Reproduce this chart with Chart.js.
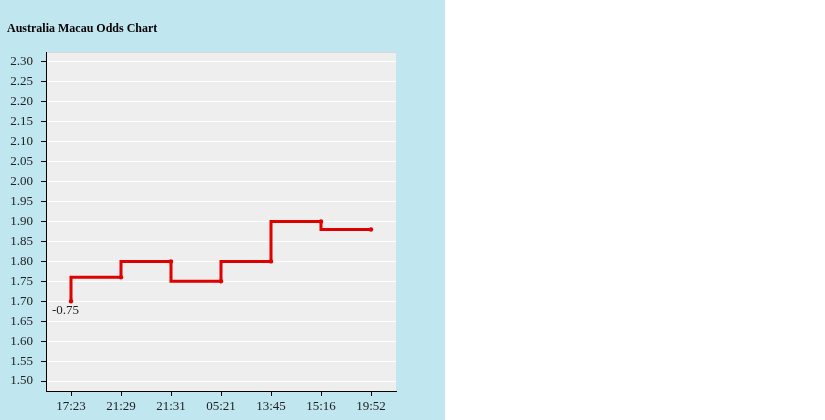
<!DOCTYPE html>
<html>
<head>
<meta charset="utf-8">
<script src="https://cdn.jsdelivr.net/npm/chart.js@4/dist/chart.umd.min.js"></script>
<style>
  body { margin: 0; background: #fff; }
  .panel { position: absolute; left: 0; top: 0; width: 445px; height: 420px; background: #c0e6f0; }
</style>
</head>
<body>
<div class="panel">
  <canvas id="oddsChart" width="445" height="420"></canvas>
</div>
<script>
const times = ["17:23", "21:29", "21:31", "05:21", "13:45", "15:16", "19:52"];
const odds = [1.70, 1.76, 1.80, 1.75, 1.80, 1.90, 1.88];
const yTicks = [1.50, 1.55, 1.60, 1.65, 1.70, 1.75, 1.80, 1.85, 1.90, 1.95, 2.00, 2.05, 2.10, 2.15, 2.20, 2.25, 2.30];
const firstLabel = "-0.75";

const serif = '"Liberation Serif", "Times New Roman", serif';

// gray plot background + handicap label beside the first point
const plotBg = {
    id: "plotBg",
    beforeDraw(chart) {
        const { ctx, chartArea: a } = chart;
        ctx.save();
        ctx.fillStyle = "#eeeeee";
        ctx.fillRect(a.left, a.top, a.right - a.left, a.bottom - a.top);
        ctx.strokeStyle = "#d8d8d8";
        ctx.beginPath();
        ctx.moveTo(a.left, a.top + 0.5);
        ctx.lineTo(a.right, a.top + 0.5);
        ctx.stroke();
        ctx.restore();
    },
    afterDatasetsDraw(chart) {
        const pt = chart.getDatasetMeta(0).data[0];
        const ctx = chart.ctx;
        ctx.save();
        ctx.font = "13px " + serif;
        ctx.fillStyle = "#222";
        ctx.textAlign = "left";
        ctx.textBaseline = "top";
        ctx.fillText(firstLabel, pt.x - 19, pt.y + 3);
        ctx.restore();
    }
};

new Chart(document.getElementById("oddsChart"), {
    type: "line",
    data: {
        labels: times,
        datasets: [{
            data: odds,
            borderColor: "#e00000",
            backgroundColor: "#e00000",
            borderWidth: 3,
            stepped: "after",
            pointRadius: 2.2,
            pointHoverRadius: 2.2,
            pointBorderWidth: 0,
            fill: false
        }]
    },
    options: {
        responsive: false,
        animation: false,
        layout: { padding: { left: 7, right: 49, top: 0, bottom: 0 } },
        plugins: {
            legend: { display: false },
            tooltip: { enabled: false },
            title: {
                display: true,
                text: "Australia Macau Odds Chart",
                align: "start",
                color: "#000",
                font: { family: serif, size: 12, weight: "bold", lineHeight: 1.2 },
                padding: { top: 22, bottom: 15.6 }
            }
        },
        scales: {
            x: {
                offset: true,
                afterFit: (s) => { s.height = 29; },
                grid: { drawOnChartArea: false, tickColor: "#000", tickLength: 5 },
                border: { color: "#000", width: 1 },
                ticks: { color: "#222", padding: 3, maxRotation: 0, font: { family: serif, size: 13 } }
            },
            y: {
                min: 1.475,
                max: 2.325,
                afterFit: (s) => { s.width = 39; },
                afterBuildTicks: (s) => { s.ticks = yTicks.map(v => ({ value: v })); },
                grid: { color: "#ffffff", tickColor: "#000", tickLength: 5 },
                border: { color: "#000", width: 1 },
                ticks: {
                    color: "#222",
                    padding: 8,
                    font: { family: serif, size: 13 },
                    callback: (v) => Number(v).toFixed(2)
                }
            }
        }
    },
    plugins: [plotBg]
});
</script>
</body>
</html>
